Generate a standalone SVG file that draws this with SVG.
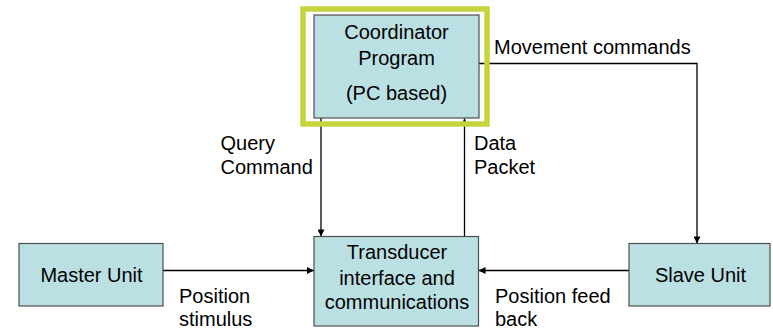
<svg xmlns="http://www.w3.org/2000/svg" width="773" height="329" viewBox="0 0 773 329">
<style>
.box{fill:#BBE0E4;stroke:#4D4D4D;stroke-width:1.2}
.t{font-family:"Liberation Sans",Arial,sans-serif;font-size:20px;fill:#000}
.c{text-anchor:middle}
.ln{stroke:#000;stroke-width:1.3;fill:none}
</style>
<defs>
<marker id="ah" viewBox="0 0 10 10" refX="10" refY="5" markerWidth="8" markerHeight="7" markerUnits="userSpaceOnUse" orient="auto">
<path d="M0,0 L10,5 L0,10 z" fill="#000"/>
</marker>
</defs>
<rect width="773" height="329" fill="#fff"/>
<g id="connectors">
<polyline class="ln" points="479,63.5 697,63.5 697,243.5" marker-end="url(#ah)"/>
<line class="ln" x1="321" y1="118" x2="321" y2="236.5" marker-end="url(#ah)"/>
<line class="ln" x1="464.5" y1="236.5" x2="464.5" y2="118.5" marker-end="url(#ah)"/>
<line class="ln" x1="163" y1="270.5" x2="314" y2="270.5" marker-end="url(#ah)"/>
<line class="ln" x1="629" y1="270.5" x2="478.5" y2="270.5" marker-end="url(#ah)"/>
</g>
<g id="coordinator">
<rect class="box" x="314" y="15" width="165" height="103"/>
<rect x="303" y="9" width="184" height="115" fill="none" stroke="#C6D43C" stroke-width="5.5"/>
<text class="t c" x="396.5" y="38.5">Coordinator</text>
<text class="t c" x="396.5" y="65">Program</text>
<text class="t c" x="396.5" y="99.5">(PC based)</text>
</g>
<g id="transducer">
<rect class="box" x="314" y="236.5" width="164.5" height="89.5"/>
<text class="t c" x="397" y="258.5">Transducer</text>
<text class="t c" x="397" y="285">interface and</text>
<text class="t c" x="397" y="308.5">communications</text>
</g>
<g id="master">
<rect class="box" x="19" y="243.5" width="144" height="62.5"/>
<text class="t c" x="91.5" y="282">Master Unit</text>
</g>
<g id="slave">
<rect class="box" x="629" y="243.5" width="141" height="62.5"/>
<text class="t c" x="700.5" y="282">Slave Unit</text>
</g>
<g id="labels">
<text class="t" x="494" y="53.5">Movement commands</text>
<text class="t" x="220.5" y="150">Query</text>
<text class="t" x="220.5" y="173.5">Command</text>
<text class="t" x="474" y="150">Data</text>
<text class="t" x="474" y="173.5">Packet</text>
<text class="t" x="179" y="302.5">Position</text>
<text class="t" x="179" y="325.5">stimulus</text>
<text class="t" x="495" y="303">Position feed</text>
<text class="t" x="495" y="326">back</text>
</g>
</svg>
